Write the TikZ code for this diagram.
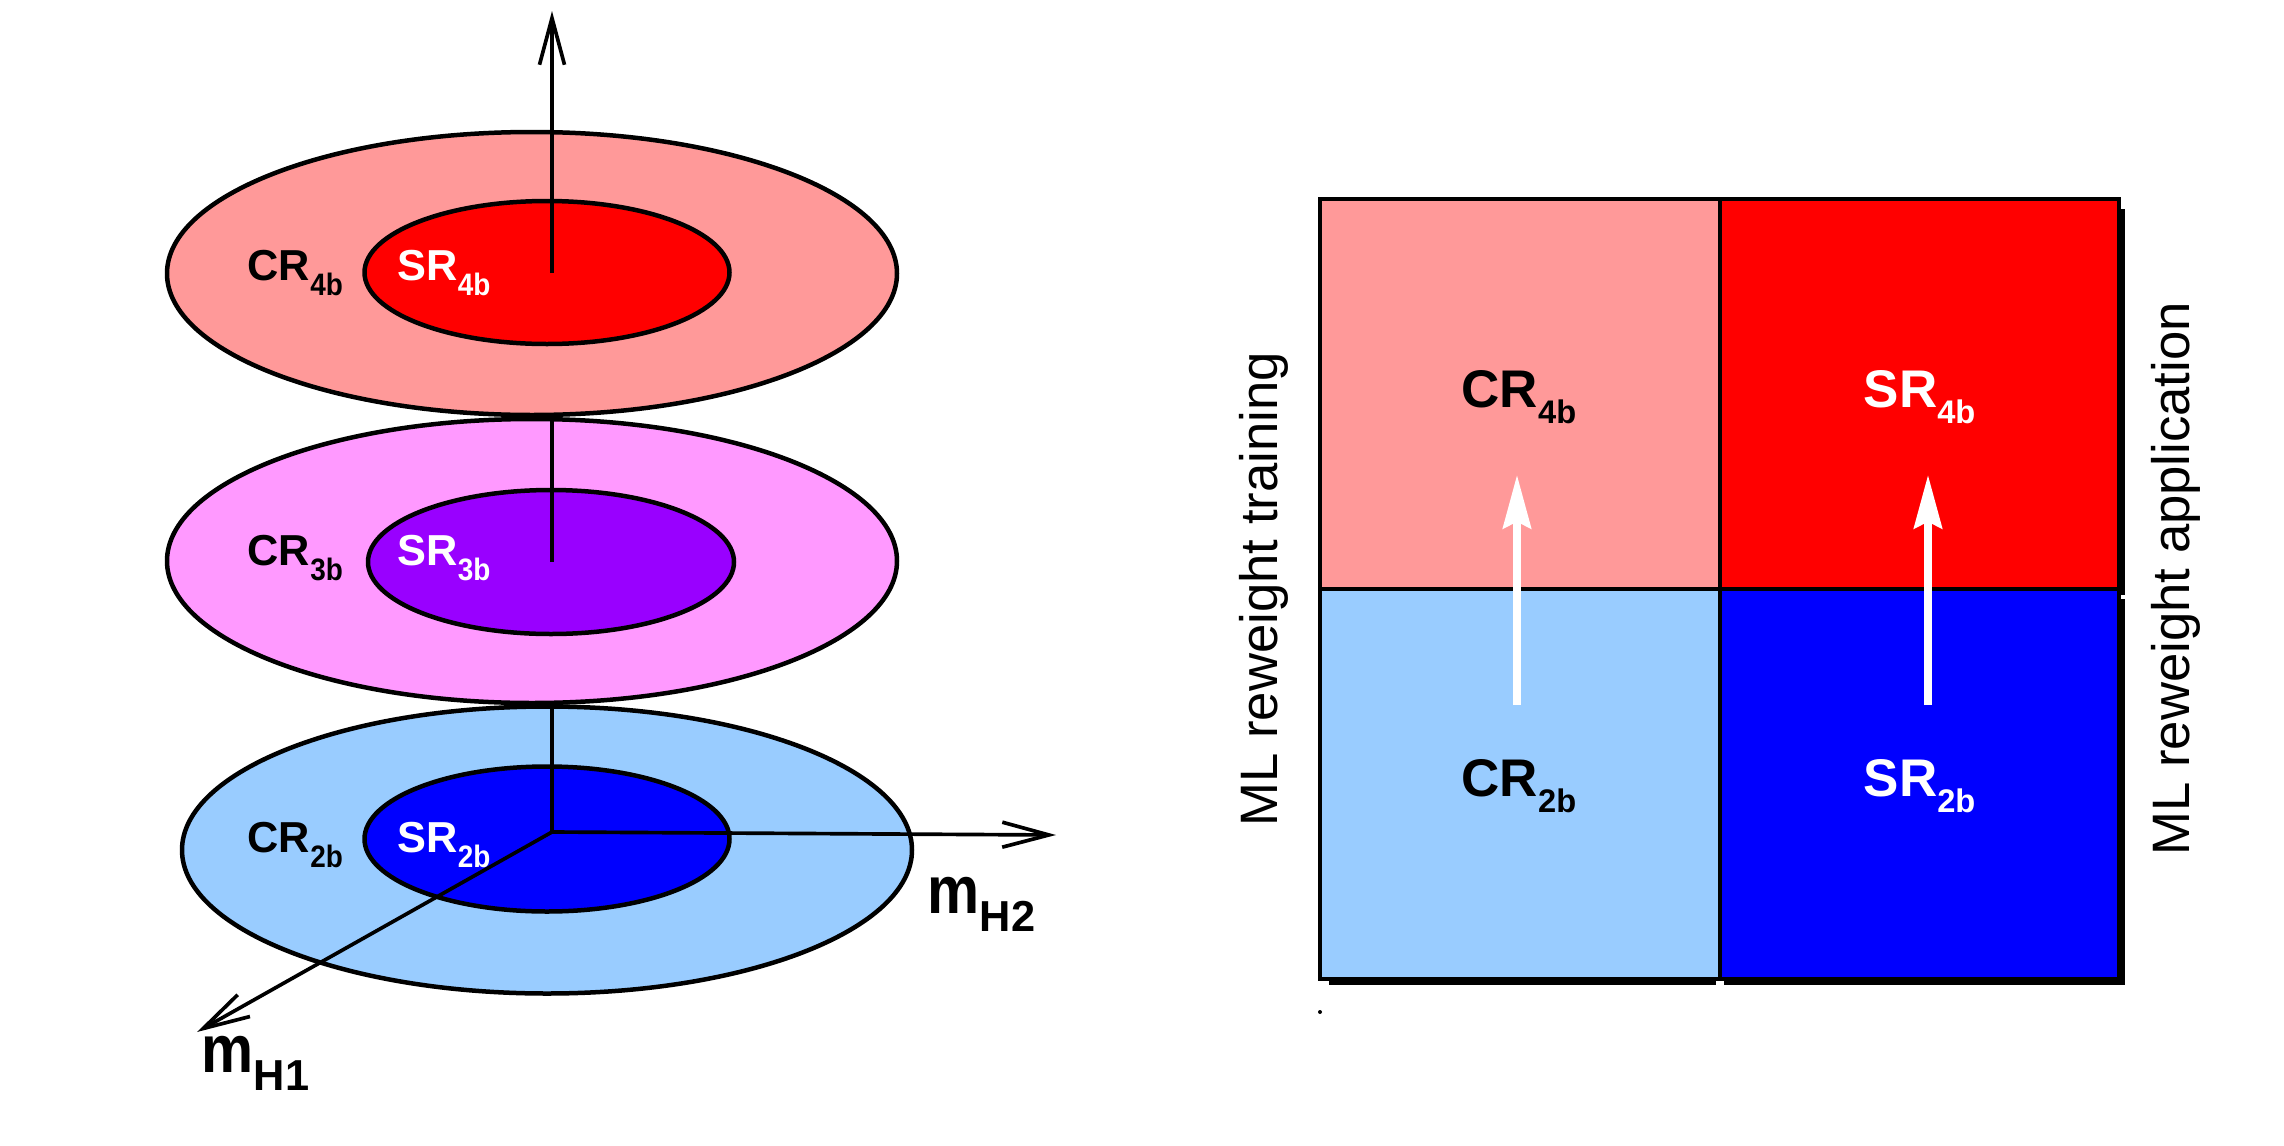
\documentclass[tikz,border=0pt]{standalone}
\usepackage{fontspec}
\setmainfont{Liberation Sans}
\newfontfamily\condfont[FakeStretch=0.9]{Liberation Sans}
\newfontfamily\mfont[FakeStretch=0.87]{Liberation Sans}
\usetikzlibrary{arrows.meta}
\definecolor{crfour}{RGB}{255,153,153}
\definecolor{srfour}{RGB}{255,0,0}
\definecolor{crthree}{RGB}{255,153,255}
\definecolor{srthree}{RGB}{153,0,255}
\definecolor{crtwo}{RGB}{153,204,255}
\definecolor{srtwo}{RGB}{0,0,255}
\newcommand{\llab}[2]{{\fontsize{13}{13}\selectfont\bfseries #1}\raisebox{-4.5pt}{\condfont\fontsize{9.3}{9.3}\selectfont\bfseries #2}}
\newcommand{\rlab}[2]{{\fontsize{15.9}{16}\selectfont\bfseries #1}\raisebox{-4.8pt}{\fontsize{9.8}{10}\selectfont\bfseries #2}}
\newcommand{\mlab}[1]{{\mfont\fontsize{20.2}{20}\selectfont\bfseries m}\raisebox{-5.4pt}{\fontsize{13}{13}\selectfont\bfseries #1}}
\begin{document}
\begin{tikzpicture}[x=0.3pt,y=-0.3pt,
  ell/.style={draw=black,line width=1.35pt},
  axisline/.style={draw=black,line width=1.1pt},
  axisarrow/.style={draw=black,line width=1.1pt,-{Straight Barb[length=14pt,width=7.5pt]}},
  lab/.style={inner sep=0pt,anchor=base west},
  boxline/.style={draw=black,line width=1.35pt},
  warrow/.style={draw=white,line width=2.2pt,-{Stealth[length=16pt,width=8.4pt,inset=2pt]}},
  rot/.style={inner sep=0pt,anchor=base west,rotate=90,font=\fontsize{15.8}{16}\selectfont}]
\useasboundingbox (0,0) rectangle (2284,1146);
\fill[white] (0,0) rectangle (2284,1146);
% ---------- left panel ----------
\coordinate (O) at (552,832);
\coordinate (c3) at (552,562);
\coordinate (c4) at (552,273);
\coordinate (ztop) at (552,11);
\coordinate (h2) at (1056,835);
\coordinate (h1) at (197,1032);
% level 2b
\draw[ell,fill=crtwo] (547,850) ellipse [x radius=109.5pt, y radius=43.05pt];
\draw[ell,fill=srtwo] (547,839) ellipse [x radius=54.75pt, y radius=21.75pt];
\draw[axisline] (O) -- (c3);
\draw[axisarrow] (O) -- (h2);
\draw[axisarrow] (O) -- (h1);
% level 3b
\draw[ell,fill=crthree] (532,561) ellipse [x radius=109.5pt, y radius=42.6pt];
\draw[ell,fill=srthree] (551,562) ellipse [x radius=54.9pt, y radius=21.6pt];
\draw[axisline] (c3) -- (c4);
% level 4b
\draw[ell,fill=crfour] (532,273.5) ellipse [x radius=109.5pt, y radius=42.45pt];
\draw[ell,fill=srfour] (547,272.5) ellipse [x radius=54.75pt, y radius=21.45pt];
\draw[axisarrow] (c4) -- (ztop);
% labels
\node[lab] (lcr4) at (247,280) {\llab{CR}{4b}};
\node[lab,text=white] (lsr4) at (397,280) {\llab{SR}{4b}};
\node[lab] (lcr3) at (247,565) {\llab{CR}{3b}};
\node[lab,text=white] (lsr3) at (397,565) {\llab{SR}{3b}};
\node[lab] (lcr2) at (247,852) {\llab{CR}{2b}};
\node[lab,text=white] (lsr2) at (397,852) {\llab{SR}{2b}};
\node[lab] (mh2) at (927,913) {\mlab{H2}};
\node[lab] (mh1) at (201,1072) {\mlab{H1}};
% ---------- right panel ----------
\fill[black] (2119,209) rectangle (2125,595);
\fill[black] (2119,599) rectangle (2125,985);
\fill[black] (1329,979) rectangle (1716,985);
\fill[black] (1724,979) rectangle (2125,985);
\draw[boxline,fill=crfour] (1320,199) rectangle (1720,589);
\draw[boxline,fill=srfour] (1720,199) rectangle (2119,589);
\draw[boxline,fill=crtwo] (1320,589) rectangle (1720,979);
\draw[boxline,fill=srtwo] (1720,589) rectangle (2119,979);
\fill[black] (1320,1012) circle (0.6pt);
\node[lab] (rcr4) at (1461,407) {\rlab{CR}{4b}};
\node[lab,text=white] (rsr4) at (1863,407) {\rlab{SR}{4b}};
\node[lab] (rcr2) at (1461,796) {\rlab{CR}{2b}};
\node[lab,text=white] (rsr2) at (1863,796) {\rlab{SR}{2b}};
\coordinate (a1s) at (1517,705);
\coordinate (a1e) at (1517,475);
\coordinate (a2s) at (1928,705);
\coordinate (a2e) at (1928,475);
\draw[warrow] (a1s) -- (a1e);
\draw[warrow] (a2s) -- (a2e);
\node[rot] (ttrain) at (1277,827) {ML reweight training};
\node[rot] (tapp) at (2189,856) {ML reweight application};
\end{tikzpicture}
\end{document}
